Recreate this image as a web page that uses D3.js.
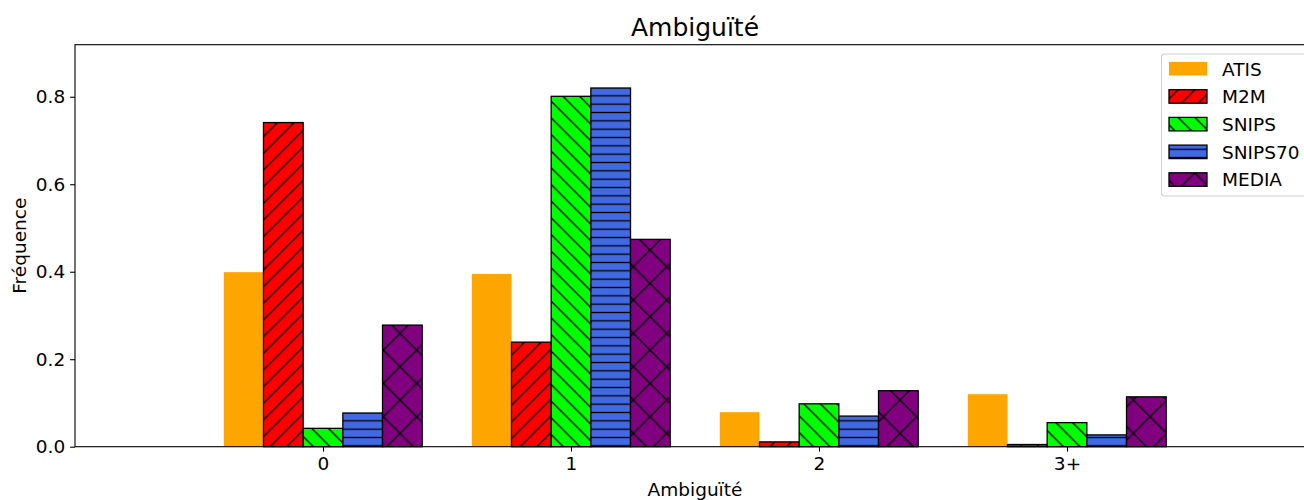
<!DOCTYPE html>
<html>
<head>
<meta charset="utf-8">
<script src="https://cdn.jsdelivr.net/npm/d3@7"></script>
<style>
  body { margin: 0; background: #fff; }
  text { font-family: "DejaVu Sans", sans-serif; fill: #000; }
</style>
</head>
<body>
<svg id="chart" width="1304" height="500"></svg>
<script>
// data
var categories = ['0', '1', '2', '3+'];
var seriesNames = ['ATIS', 'M2M', 'SNIPS', 'SNIPS70', 'MEDIA'];
var atis    = [0.399, 0.395, 0.079, 0.120];
var m2m     = [0.741, 0.239, 0.011, 0.005];
var snips   = [0.042, 0.801, 0.098, 0.055];
var snips70 = [0.077, 0.820, 0.070, 0.027];
var media   = [0.278, 0.474, 0.128, 0.114];
var yTicks  = [0.0, 0.2, 0.4, 0.6, 0.8];

var seriesValues = [atis, m2m, snips, snips70, media];
var colors = ['#ffa500', '#ff0000', '#00ff00', '#4169e1', '#800080'];
var hatches = ['', '/', '\\', '-', 'x'];

var width = 1304;
var height = 500;
var margin = {top: 44.7, bottom: 53.3, left: 75, right: -11};
var barW = 0.16;

var svg = d3.select('#chart');

//scales
var xScale = d3.scaleLinear()
    .domain([-1, 4])
    .range([margin.left, width - margin.right]);
var yScale = d3.scaleLinear()
    .domain([0, 0.919])
    .range([height - margin.bottom, margin.top]);

// hatch patterns
var defs = svg.append('defs');
var hatchSize = {'/': 100 / 6, '\\': 100 / 6, '-': 100 / 12, 'x': 100 / 3};
hatches.forEach((h, j) => {
    if (!h) return;
    var size = hatchSize[h];
    var p = defs.append('pattern')
        .attr('id', 'hatch' + j)
        .attr('patternUnits', 'userSpaceOnUse')
        .attr('width', size)
        .attr('height', size);
    p.append('rect').attr('width', size).attr('height', size).attr('fill', colors[j]);
    var d = '';
    if (h === '/' || h === 'x') {
        d += `M${-size/2},${size/2}L${size/2},${-size/2}M0,${size}L${size},0M${size/2},${1.5*size}L${1.5*size},${size/2}`;
    }
    if (h === '\\' || h === 'x') {
        d += `M${-size/2},${size/2}L${size/2},${1.5*size}M0,0L${size},${size}M${size/2},${-size/2}L${1.5*size},${size/2}`;
    }
    if (h === '-') {
        d += `M0,${size/2}L${size},${size/2}`;
    }
    p.append('path').attr('d', d).attr('stroke', '#000').attr('stroke-width', 1.3).attr('fill', 'none');
});

var fillFor = j => hatches[j] ? 'url(#hatch' + j + ')' : colors[j];

//create the rectangles
seriesValues.forEach((vals, j) => {
    svg.append('g').selectAll('rect')
        .data(vals)
        .enter().append('rect')
        .attr('x', (d, i) => xScale(i + (j - 2) * barW - barW / 2))
        .attr('width', xScale(barW) - xScale(0))
        .attr('y', d => yScale(d))
        .attr('height', d => yScale(0) - yScale(d))
        .attr('fill', fillFor(j))
        .attr('stroke', hatches[j] ? '#000' : 'none')
        .attr('stroke-width', 1.3);
});

// axes
var xAxis = d3.axisBottom(xScale)
    .tickValues(d3.range(categories.length))
    .tickFormat(i => categories[i])
    .tickSize(4.9)
    .tickPadding(4.9);
var yAxis = d3.axisLeft(yScale)
    .tickValues(yTicks)
    .tickFormat(d3.format('.1f'))
    .tickSize(4.9)
    .tickPadding(4.9);

var gx = svg.append('g')
    .attr('transform', 'translate(' + [0, height - margin.bottom] + ')')
    .call(xAxis);
var gy = svg.append('g')
    .attr('transform', 'translate(' + [margin.left, 0] + ')')
    .call(yAxis);
[gx, gy].forEach(g => {
    g.select('.domain').remove();
    g.selectAll('.tick line').attr('stroke', '#000').attr('stroke-width', 1.1);
    g.selectAll('.tick text').style('font-size', '18.5px').style('font-family', '"DejaVu Sans", sans-serif').attr('fill', '#000');
});

// spines
var x0 = margin.left, x1 = width - margin.right, y0 = margin.top, y1 = height - margin.bottom;
svg.append('rect')
    .attr('x', x0).attr('y', y0)
    .attr('width', x1 - x0).attr('height', y1 - y0)
    .attr('fill', 'none')
    .attr('stroke', '#000')
    .attr('stroke-width', 1.1);

// titles
svg.append('text')
    .attr('x', (x0 + x1) / 2).attr('y', 36)
    .attr('text-anchor', 'middle')
    .style('font-size', '25px')
    .text('Ambiguïté');
svg.append('text')
    .attr('x', (x0 + x1) / 2).attr('y', 496)
    .attr('text-anchor', 'middle')
    .style('font-size', '18.5px')
    .text('Ambiguïté');
svg.append('text')
    .attr('transform', 'translate(26,' + ((y0 + y1) / 2) + ') rotate(-90)')
    .attr('text-anchor', 'middle')
    .style('font-size', '18.5px')
    .text('Fréquence');

// legend
var legend = svg.append('g').attr('transform', 'translate(1161.5,54)');
legend.append('rect')
    .attr('width', 146).attr('height', 142)
    .attr('rx', 3)
    .attr('fill', 'rgba(255,255,255,0.8)')
    .attr('stroke', '#d0d0d0')
    .attr('stroke-width', 1.1);
seriesNames.forEach((name, j) => {
    var row = legend.append('g').attr('transform', 'translate(0,' + (8 + j * 27.7) + ')');
    row.append('rect')
        .attr('x', 7.5).attr('y', 0)
        .attr('width', 38).attr('height', 13.5)
        .attr('fill', fillFor(j))
        .attr('stroke', hatches[j] ? '#000' : 'none')
        .attr('stroke-width', 1.3);
    row.append('text')
        .attr('x', 60.5).attr('y', 13.5)
        .style('font-size', '18.5px')
        .text(name);
});
</script>
</body>
</html>
